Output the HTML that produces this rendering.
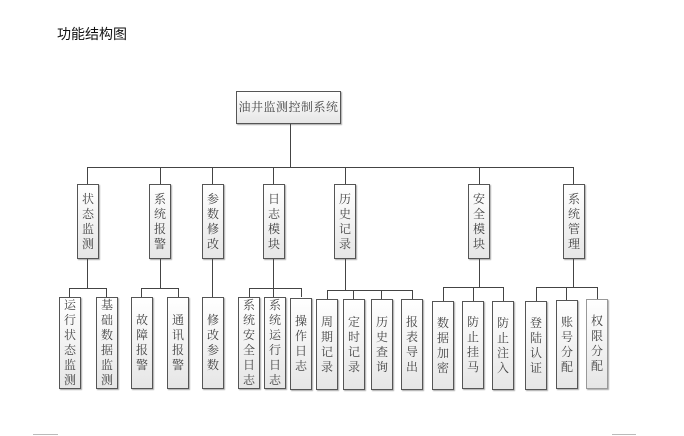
<!DOCTYPE html>
<html><head><meta charset="utf-8"><style>
body{margin:0;width:684px;height:436px;background:#fff;position:relative;overflow:hidden;font-family:"Liberation Sans","Noto Serif CJK SC","Noto Sans CJK SC",serif;}
.b{position:absolute;box-sizing:border-box;border:1px solid #555;background:linear-gradient(#fff,#e6e6e6);box-shadow:1px 1px 1px #aaa;display:flex;align-items:center;justify-content:center;color:#444;font-size:12px;line-height:15px;text-align:center;}
.v{width:14px;word-break:break-all;}
.h{position:absolute;height:1px;background:#444;}
.l{position:absolute;width:1px;background:#444;}
</style></head><body>
<div style="position:absolute;left:57px;top:24px;font-size:14px;font-family:'Liberation Sans','Noto Sans CJK SC',sans-serif;color:#111">功能结构图</div>
<div class="b" style="left:236px;top:91px;width:105px;height:33px;font-size:12px;white-space:nowrap;letter-spacing:0.5px">油井监测控制系统</div>
<div class="l" style="left:290px;top:124px;height:43px"></div>
<div class="h" style="left:87px;top:167px;width:487px"></div>
<div class="l" style="left:87px;top:167px;height:17px"></div>
<div class="l" style="left:160px;top:167px;height:17px"></div>
<div class="l" style="left:212px;top:167px;height:17px"></div>
<div class="l" style="left:273px;top:167px;height:17px"></div>
<div class="l" style="left:345px;top:167px;height:17px"></div>
<div class="l" style="left:479px;top:167px;height:17px"></div>
<div class="l" style="left:573px;top:167px;height:17px"></div>
<div class="b" style="left:77px;top:184px;width:22px;height:75px"><div class="v">状态监测</div></div>
<div class="b" style="left:149px;top:184px;width:22px;height:75px"><div class="v">系统报警</div></div>
<div class="b" style="left:202px;top:184px;width:22px;height:75px"><div class="v">参数修改</div></div>
<div class="b" style="left:263px;top:184px;width:22px;height:75px"><div class="v">日志模块</div></div>
<div class="b" style="left:334px;top:184px;width:22px;height:75px"><div class="v">历史记录</div></div>
<div class="b" style="left:468px;top:184px;width:22px;height:75px"><div class="v">安全模块</div></div>
<div class="b" style="left:563px;top:184px;width:22px;height:75px"><div class="v">系统管理</div></div>
<div class="l" style="left:87px;top:259px;height:30px"></div>
<div class="h" style="left:69px;top:288px;width:38px"></div>
<div class="l" style="left:69px;top:288px;height:9px"></div>
<div class="l" style="left:106px;top:288px;height:9px"></div>
<div class="l" style="left:160px;top:259px;height:30px"></div>
<div class="h" style="left:141px;top:288px;width:38px"></div>
<div class="l" style="left:141px;top:288px;height:9px"></div>
<div class="l" style="left:178px;top:288px;height:9px"></div>
<div class="l" style="left:212px;top:259px;height:38px"></div>
<div class="l" style="left:273px;top:259px;height:38px"></div>
<div class="h" style="left:249px;top:288px;width:53px"></div>
<div class="l" style="left:249px;top:288px;height:9px"></div>
<div class="l" style="left:301px;top:288px;height:9px"></div>
<div class="l" style="left:345px;top:259px;height:32px"></div>
<div class="h" style="left:327px;top:290px;width:86px"></div>
<div class="l" style="left:327px;top:290px;height:9px"></div>
<div class="l" style="left:353px;top:290px;height:9px"></div>
<div class="l" style="left:381px;top:290px;height:9px"></div>
<div class="l" style="left:412px;top:290px;height:9px"></div>
<div class="l" style="left:479px;top:259px;height:28px"></div>
<div class="h" style="left:443px;top:287px;width:61px"></div>
<div class="l" style="left:443px;top:287px;height:14px"></div>
<div class="l" style="left:473px;top:287px;height:14px"></div>
<div class="l" style="left:503px;top:287px;height:14px"></div>
<div class="l" style="left:573px;top:259px;height:28px"></div>
<div class="h" style="left:536px;top:287px;width:62px"></div>
<div class="l" style="left:536px;top:287px;height:14px"></div>
<div class="l" style="left:566px;top:287px;height:14px"></div>
<div class="l" style="left:597px;top:287px;height:14px"></div>
<div class="b" style="left:59px;top:297px;width:22px;height:92px"><div class="v">运行状态监测</div></div>
<div class="b" style="left:96px;top:297px;width:22px;height:92px"><div class="v">基础数据监测</div></div>
<div class="b" style="left:131px;top:297px;width:22px;height:92px"><div class="v">故障报警</div></div>
<div class="b" style="left:167px;top:297px;width:22px;height:92px"><div class="v">通讯报警</div></div>
<div class="b" style="left:202px;top:297px;width:22px;height:92px"><div class="v">修改参数</div></div>
<div class="b" style="left:238px;top:297px;width:22px;height:92px"><div class="v">系统安全日志</div></div>
<div class="b" style="left:264px;top:297px;width:22px;height:92px"><div class="v">系统运行日志</div></div>
<div class="b" style="left:290px;top:298px;width:22px;height:92px"><div class="v">操作日志</div></div>
<div class="b" style="left:316px;top:299px;width:22px;height:91px"><div class="v">周期记录</div></div>
<div class="b" style="left:343px;top:299px;width:22px;height:91px"><div class="v">定时记录</div></div>
<div class="b" style="left:371px;top:299px;width:22px;height:91px"><div class="v">历史查询</div></div>
<div class="b" style="left:401px;top:299px;width:22px;height:91px"><div class="v">报表导出</div></div>
<div class="b" style="left:432px;top:301px;width:22px;height:89px"><div class="v">数据加密</div></div>
<div class="b" style="left:462px;top:301px;width:22px;height:88px"><div class="v">防止挂马</div></div>
<div class="b" style="left:492px;top:301px;width:22px;height:89px"><div class="v">防止注入</div></div>
<div class="b" style="left:525px;top:301px;width:22px;height:89px"><div class="v">登陆认证</div></div>
<div class="b" style="left:556px;top:300px;width:22px;height:89px"><div class="v">账号分配</div></div>
<div class="b" style="left:586px;top:299px;width:22px;height:90px;border-color:#999"><div class="v">权限分配</div></div>
<div class="h" style="left:33px;top:434px;width:25px;background:#bbb"></div>
<div class="h" style="left:612px;top:434px;width:24px;background:#bbb"></div>
</body></html>
